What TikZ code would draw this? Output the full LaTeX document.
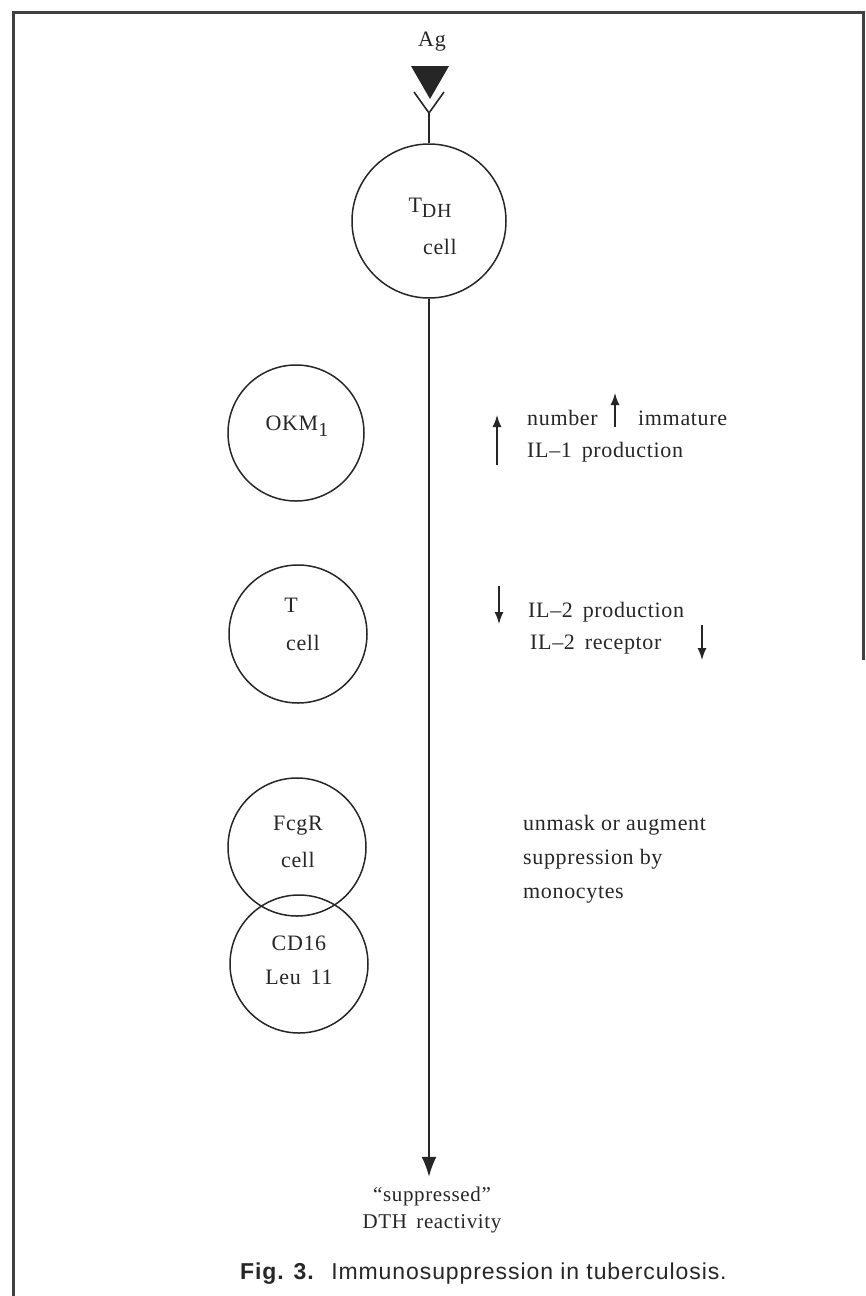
\documentclass[tikz,border=0pt]{standalone}
\usepackage{fontspec}
\setmainfont{Liberation Serif}[LetterSpace=3]
\newfontfamily\capfont{Liberation Sans}[LetterSpace=4]
\usetikzlibrary{arrows.meta}
\begin{document}
\begin{tikzpicture}[x=1pt,y=-1pt,
  cellc/.style={circle,draw,line width=1.5pt,black!85,minimum size=#1,inner sep=0pt},
  lbl/.style={font=\fontsize{22}{25}\selectfont,inner sep=0pt,text=black!85},
  txt/.style={font=\fontsize{22}{34}\selectfont,inner sep=0pt,align=left,anchor=west,text=black!85},
  conn/.style={line width=1.6pt,black!85,-{Latex[length=20pt,width=15pt]}},
  ind/.style={line width=1.4pt,black!85,-{Latex[length=12pt,width=9pt]}},
  frame/.style={line width=3pt,black!75}]
\useasboundingbox (0,0) rectangle (865,1296);
% frame
\draw[frame] (13,1296) -- (13,12) -- (863,12) -- (863,660);
% antigen and receptor
\node[lbl] (ag) at (432,42) {Ag};
\fill[black!85] (411,66) -- (449,66) -- (430,99) -- cycle;
\coordinate (yl) at (414,92);
\coordinate (yr) at (444,92);
\coordinate (yj) at (429,113);
\draw[line width=1.6pt,black!85] (yl) -- (yj) -- (yr);
% TDH cell
\node[cellc=154pt] (tdh) at (429,221) {};
\draw[line width=1.6pt,black!85] (yj) -- (tdh.north);
\node[lbl] (tdht) at (430,208) {T\raisebox{-0.45ex}{\fontsize{20}{22}\selectfont DH}};
\node[lbl] (tdhc) at (440,247) {cell};
% left cells
\node[cellc=136pt] (okm) at (296,433) {};
\node[lbl] (okmt) at (297,426) {OKM\raisebox{-0.55ex}{\fontsize{20}{22}\selectfont 1}};
\node[cellc=138pt] (tc) at (298,634) {};
\node[lbl] (tct) at (291,605) {T};
\node[lbl] (tcc) at (303,643) {cell};
\node[cellc=138pt] (fc) at (297,847) {};
\node[lbl] (fct) at (298,826) {FcgR};
\node[lbl] (fcc) at (298,860) {cell};
\node[cellc=138pt] (cd) at (299,964) {};
\node[lbl] (cdt) at (299,943) {CD16};
\node[lbl] (cdc) at (299,977) {Leu\, 11};
% main arrow and result
\node[lbl,align=center,font=\fontsize{21}{27}\selectfont] (res) at (432,1210) {``suppressed''\\DTH\, reactivity};
\draw[conn,shorten >=10pt] (tdh.south) -- (res.north -| tdh.south);
% right texts
\node[txt] (t1) at (527,418) {number};
\node[txt] (t1b) at (638,418) {immature};
\node[txt] (t2) at (527,452) {IL--1\, production};
\draw[ind] (615,427) -- (615,393);
\draw[ind] (497,465) -- (497,415);
\node[txt] (t3) at (528,612) {IL--2\, production};
\node[txt] (t4) at (530,645) {IL--2\, receptor};
\draw[ind] (499,586) -- (499,624);
\draw[ind] (702,625) -- (702,660);
\node[txt] (t5) at (523,859) {unmask or augment\\suppression by\\monocytes};
% caption
\node[anchor=west,inner sep=0pt,font=\capfont\fontsize{23}{26}\selectfont,text=black!85] (cap) at (240,1274) {\textbf{Fig. 3.}\hspace{0.3em} Immunosuppression in tuberculosis.};
\end{tikzpicture}
\end{document}
